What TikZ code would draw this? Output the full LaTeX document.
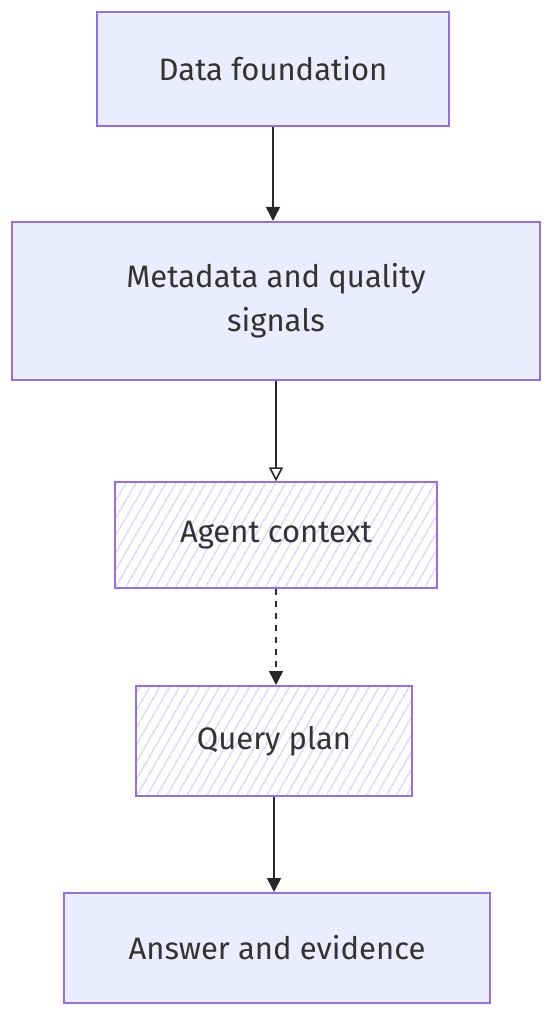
\documentclass[tikz,border=0pt]{standalone}
\usepackage{fontspec}
\setmainfont{Fira Sans}
\usetikzlibrary{arrows.meta, positioning, patterns.meta}
\definecolor{boxfill}{RGB}{236, 236, 255}
\definecolor{boxline}{RGB}{147, 112, 219}
\definecolor{hatchcolor}{RGB}{210, 205, 248}
\definecolor{textgray}{RGB}{51, 51, 51}
\definecolor{arrowgray}{RGB}{40, 40, 40}

\begin{document}
\begin{tikzpicture}[
    x=0.5pt, y=-0.5pt,
    >={Triangle[length=7pt, width=7pt]},
    stage/.style={rectangle, draw=boxline, fill=boxfill, line width=1pt, align=center, text=textgray, font=\fontsize{15.5}{22}\selectfont, inner sep=0pt},
    hatched/.style={stage, fill=none, pattern={Lines[angle=60, distance=4pt, line width=0.7pt]}, pattern color=hatchcolor},
    arrow/.style={->, draw=arrowgray, line width=0.8pt},
    openarrow/.style={-{Triangle[open, length=7pt, width=7pt]}, draw=arrowgray, line width=0.8pt}
]
\useasboundingbox (0, 0) rectangle (552, 1020);

% === Stages ===
\node[stage, minimum width=176pt, minimum height=57pt] (datafound) at (273, 69) {Data foundation};
\node[stage, minimum width=264pt, minimum height=79pt] (metadata) at (276, 301) {Metadata and quality\\signals};
\node[hatched, minimum width=161pt, minimum height=53pt] (agentctx) at (276, 535) {Agent context};
\node[hatched, minimum width=138pt, minimum height=55pt] (queryplan) at (274, 741) {Query plan};
\node[stage, minimum width=213pt, minimum height=55pt] (answer) at (277, 948) {Answer and evidence};

% === Arrows ===
\draw[arrow] (datafound) -- (datafound |- metadata.north);
\draw[openarrow] (metadata) -- (agentctx);
\draw[arrow, dashed] (agentctx) -- (agentctx |- queryplan.north);
\draw[arrow] (queryplan) -- (queryplan |- answer.north);

\end{tikzpicture}
\end{document}
